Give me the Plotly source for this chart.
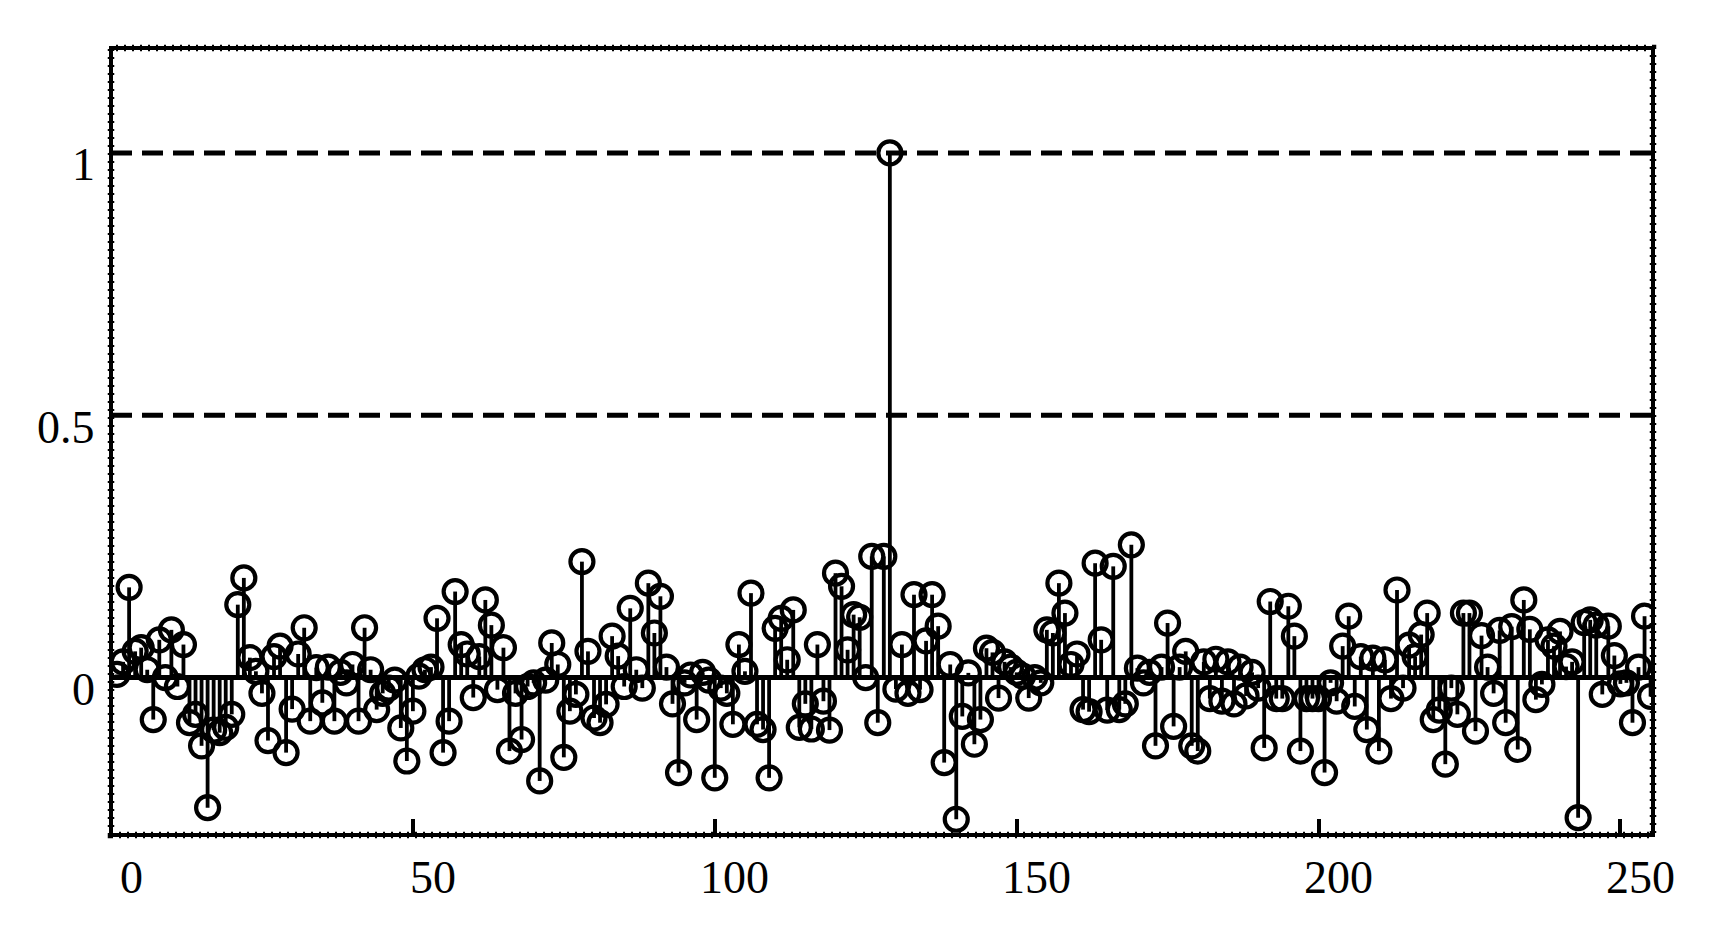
import plotly.graph_objects as go

# ---- data ----
n = list(range(1, 256))
values = [
    0.006, 0.03, 0.172, 0.05, 0.057, 0.015, -0.08, 0.072, 0.0, 0.091,
    -0.017, 0.063, -0.086, -0.07, -0.13, -0.248, -0.1, -0.105, -0.095, -0.07,
    0.139, 0.19, 0.038, 0.012, -0.03, -0.12, 0.04, 0.06, -0.143, -0.06,
    0.045, 0.095, -0.083, 0.019, -0.048, 0.02, -0.083, 0.01, -0.01, 0.025,
    -0.083, 0.095, 0.015, -0.061, -0.03, -0.02, -0.005, -0.096, -0.159, -0.064,
    0.003, 0.015, 0.02, 0.113, -0.143, -0.083, 0.164, 0.063, 0.045, -0.038,
    0.04, 0.148, 0.1, -0.023, 0.057, -0.14, -0.03, -0.118, -0.017, -0.01,
    -0.197, -0.005, 0.066, 0.025, -0.152, -0.064, -0.032, 0.221, 0.05, -0.077,
    -0.086, -0.051, 0.079, 0.041, -0.017, 0.132, 0.015, -0.02, 0.18, 0.085,
    0.155, 0.02, -0.05, -0.181, -0.01, 0.005, -0.08, 0.01, -0.005, -0.191,
    -0.02, -0.03, -0.089, 0.063, 0.012, 0.161, -0.089, -0.099, -0.191, 0.094,
    0.113, 0.034, 0.129, -0.095, -0.05, -0.098, 0.063, -0.045, -0.1, 0.199,
    0.174, 0.053, 0.12, 0.115, 0.0, 0.231, -0.086, 0.231, 1.0, -0.022,
    0.063, -0.03, 0.158, -0.023, 0.07, 0.158, 0.098, -0.162, 0.025, -0.27,
    -0.074, 0.009, -0.127, -0.08, 0.056, 0.048, -0.039, 0.03, 0.02, 0.01,
    0.003, -0.039, 0.0, -0.01, 0.091, 0.085, 0.18, 0.123, 0.025, 0.045,
    -0.061, -0.065, 0.218, 0.072, -0.062, 0.212, -0.061, -0.05, 0.253, 0.018,
    -0.01, 0.01, -0.13, 0.02, 0.104, -0.093, 0.02, 0.05, -0.13, -0.14,
    0.03, -0.04, 0.035, -0.045, 0.03, -0.05, 0.02, -0.035, 0.01, -0.02,
    -0.134, 0.145, -0.04, -0.04, 0.136, 0.079, -0.14, -0.04, -0.04, -0.04,
    -0.181, -0.01, -0.045, 0.06, 0.117, -0.055, 0.04, -0.099, 0.037, -0.14,
    0.034, -0.04, 0.167, -0.02, 0.062, 0.04, 0.082, 0.123, -0.08, -0.062,
    -0.165, -0.02, -0.07, 0.123, 0.123, -0.102, 0.08, 0.02, -0.03, 0.09,
    -0.086, 0.097, -0.137, 0.148, 0.092, -0.042, -0.013, 0.072, 0.06, 0.088,
    0.021, 0.03, -0.267, 0.105, 0.11, 0.1, -0.032, 0.098, 0.042, -0.012,
    -0.01, -0.086, 0.02, 0.117, -0.036,
]
ref_levels = [0.5, 1.0]
x_tick_vals = [0, 50, 100, 150, 200, 250]
x_tick_text = ["0", "50", "100", "150", "200", "250"]
y_tick_vals = [0, 0.5, 1]
y_tick_text = ["0", "0.5", "1"]

FONT = "Liberation Serif, Times New Roman, serif"

# stems built from the data
sx, sy = [], []
for xi, vi in zip(n, values):
    sx += [xi, xi, None]
    sy += [0, vi, None]

fig = go.Figure()
fig.add_trace(go.Scatter(x=sx, y=sy, mode="lines",
                         line=dict(color="black", width=3.8),
                         hoverinfo="skip", showlegend=False))
fig.add_trace(go.Scatter(x=n, y=values, mode="markers",
                         marker=dict(symbol="circle-open", size=23, color="black",
                                     line=dict(width=4.2, color="black")),
                         showlegend=False))

shapes = []
for lv in ref_levels:
    shapes.append(dict(type="line", xref="paper", yref="y", x0=0, x1=1, y0=lv, y1=lv,
                       line=dict(color="black", width=5, dash="21px,10px"), layer="above"))
# frame: solid line plus dotted overlay
shapes.append(dict(type="rect", xref="paper", yref="paper", x0=0, x1=1, y0=0, y1=1,
                   line=dict(color="black", width=4), layer="above"))
shapes.append(dict(type="rect", xref="paper", yref="paper", x0=0, x1=1, y0=0, y1=1,
                   line=dict(color="black", width=6.5, dash="2px,6px"), layer="above"))

annotations = []
for v, t in zip(x_tick_vals, x_tick_text):
    annotations.append(dict(x=v, y=0, xref="x", yref="paper", text=t, showarrow=False,
                            xanchor="center", yanchor="middle", xshift=20, yshift=-42,
                            font=dict(family=FONT, size=46, color="black")))
for v, t in zip(y_tick_vals, y_tick_text):
    annotations.append(dict(x=0, y=v, xref="paper", yref="y", text=t, showarrow=False,
                            xanchor="right", yanchor="middle", xshift=-14, yshift=-12,
                            font=dict(family=FONT, size=46, color="black")))

# the page body adds an 8px margin, so the figure is sized to compensate
fig.update_layout(
    width=1709, height=938,
    margin=dict(l=103, r=64, t=40, b=111),
    paper_bgcolor="white", plot_bgcolor="white",
    shapes=shapes, annotations=annotations,
    font=dict(family=FONT, size=46, color="black"),
    xaxis=dict(range=[0, 255.4], showgrid=False, zeroline=False, showline=False,
               tickvals=[v for v in x_tick_vals if v > 0], ticks="inside", ticklen=16,
               tickwidth=3.5, tickcolor="black", showticklabels=False),
    yaxis=dict(range=[-0.3, 1.2], showgrid=False, zeroline=True, zerolinecolor="black",
               zerolinewidth=4.5, showline=False, ticks="", showticklabels=False),
)

fig.write_html("out.html")
